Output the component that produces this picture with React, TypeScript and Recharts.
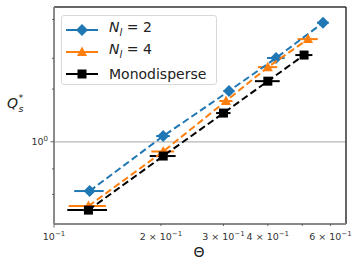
import React from 'react';
import { ScatterChart, Scatter, XAxis, YAxis, ErrorBar, ReferenceLine, Legend } from 'recharts';

// Series: N_l = 2
const thetaN2 = [0.126, 0.203, 0.311, 0.422, 0.572];
const qN2 = [0.523, 1.078, 1.95, 3.01, 4.79];
const errN2 = [0.012, 0.009, 0.011, 0.024, 0.022];
// Series: N_l = 4
const thetaN4 = [0.125, 0.203, 0.305, 0.40, 0.519];
const qN4 = [0.429, 0.88, 1.71, 2.67, 3.86];
const errN4 = [0.015, 0.015, 0.013, 0.025, 0.034];
// Series: Monodisperse
const thetaMono = [0.125, 0.203, 0.30, 0.40, 0.506];
const qMono = [0.407, 0.829, 1.459, 2.22, 3.13];
const errMono = [0.016, 0.017, 0.014, 0.032, 0.028];

const seriesNames = ['N2', 'N4', 'Monodisperse'];
const colors = ['#1f77b4', '#ff7f0e', '#000000'];

const xDomain = [0.1, 0.664];
const yDomain = [0.339, 5.89];
const xTicks = [0.1, 0.2, 0.3, 0.4, 0.5, 0.6];
const xTickMantissa: Record<string, string | null> = {
  '0.1': '',
  '0.2': '2 × ',
  '0.3': '3 × ',
  '0.4': '4 × ',
  '0.5': null,
  '0.6': '6 × ',
};
const yTicks = [0.4, 0.5, 0.6, 0.7, 0.8, 0.9, 1, 2, 3, 4, 5];

const build = (xs: number[], ys: number[], es: number[]) =>
  xs.map((x, i) => ({ x, y: ys[i], xe: es[i] }));

const dataN2 = build(thetaN2, qN2, errN2);
const dataN4 = build(thetaN4, qN4, errN4);
const dataMono = build(thetaMono, qMono, errMono);

const FONT = 'DejaVu Sans, sans-serif';

const Diamond = ({ cx, cy, fill }: any) => (
  <polygon points={`${cx},${cy - 6} ${cx + 6},${cy} ${cx},${cy + 6} ${cx - 6},${cy}`} fill={fill} />
);
const Triangle = ({ cx, cy, fill }: any) => (
  <polygon points={`${cx},${cy - 5.5} ${cx + 5},${cy + 4} ${cx - 5},${cy + 4}`} fill={fill} />
);
const Square = ({ cx, cy, fill }: any) => (
  <rect x={cx - 4.5} y={cy - 4.5} width={9} height={9} fill={fill} />
);
const shapes = [Diamond, Triangle, Square];

const XTick = ({ x, y, payload }: any) => {
  const v = payload.value;
  const key = String(Math.round(v * 10) / 10);
  const m = xTickMantissa[key];
  const major = Math.abs(v - 0.1) < 1e-9;
  return (
    <g>
      <line x1={x} y1={y} x2={x} y2={y + (major ? 3.5 : 2)} stroke="#444" strokeWidth={0.8} />
      {m !== null && m !== undefined && (
        <text x={x} y={y + 16} textAnchor="middle" fontFamily={FONT} fontSize={9.5} fill="#333">
          {m}10
          <tspan dy={-4} fontSize={7}>−1</tspan>
        </text>
      )}
    </g>
  );
};

const YTick = ({ x, y, payload }: any) => {
  const v = payload.value;
  const major = Math.abs(v - 1) < 1e-9;
  return (
    <g>
      <line x1={x} y1={y} x2={x - (major ? 3.5 : 2)} y2={y} stroke="#444" strokeWidth={0.8} />
      {major && (
        <text x={x - 6} y={y + 3.5} textAnchor="end" fontFamily={FONT} fontSize={9.5} fill="#333">
          10
          <tspan dy={-4} fontSize={7}>0</tspan>
        </text>
      )}
    </g>
  );
};

const XLabel = () => (
  <text x={199} y={257} textAnchor="middle" fontFamily={FONT} fontSize={14} fill="#222">
    Θ
  </text>
);

const YLabel = () => (
  <text x={7} y={108} fontFamily={FONT} fontSize={14} fill="#222">
    <tspan fontStyle="italic">Q</tspan>
    <tspan x={18.5} dy={3.5} fontSize={9.5} fontStyle="italic">s</tspan>
    <tspan x={18.5} dy={-11} fontSize={9.5}>*</tspan>
  </text>
);

const LegendIcon = ({ idx }: { idx: number }) => {
  const S = shapes[idx];
  return (
    <svg width={34} height={14} style={{ display: 'block' }}>
      <line x1={1} y1={7} x2={33} y2={7} stroke={colors[idx]} strokeWidth={2} />
      <S cx={17} cy={7} fill={colors[idx]} />
    </svg>
  );
};

const legendLabels = [
  <span key="a"><i>N</i><sub style={{ fontSize: 10, fontStyle: 'italic' }}>l</sub> = 2</span>,
  <span key="b"><i>N</i><sub style={{ fontSize: 10, fontStyle: 'italic' }}>l</sub> = 4</span>,
  <span key="c">Monodisperse</span>,
];

const LegendContent = () => (
  <div
    style={{
      border: '1px solid #d8d8d8',
      borderRadius: 3,
      background: 'rgba(255,255,255,0.85)',
      width: 156,
      height: 70,
      boxSizing: 'border-box',
      padding: '3px 0 0 3px',
      fontFamily: FONT,
      fontSize: 14,
      color: '#222',
    }}
  >
    {seriesNames.map((n, i) => (
      <div key={n} style={{ display: 'flex', alignItems: 'center', height: 22 }}>
        <LegendIcon idx={i} />
        <div style={{ marginLeft: 10, lineHeight: '16px', whiteSpace: 'nowrap' }}>{legendLabels[i]}</div>
      </div>
    ))}
  </div>
);

const datasets = [dataN2, dataN4, dataMono];

export default function App() {
  return (
    <div style={{ position: 'absolute', left: 0, top: 0, background: '#fff' }}>
      <ScatterChart width={353} height={259} margin={{ top: 7, right: 7, bottom: 0, left: 0 }}>
        <XAxis
          type="number"
          dataKey="x"
          scale="log"
          domain={xDomain}
          allowDataOverflow
          ticks={xTicks}
          tick={<XTick />}
          tickLine={false}
          tickSize={0}
          tickMargin={0}
          height={35}
          axisLine={{ stroke: '#8a8a8a', strokeWidth: 2 }}
          label={<XLabel />}
        />
        <YAxis
          type="number"
          dataKey="y"
          scale="log"
          domain={yDomain}
          allowDataOverflow
          ticks={yTicks}
          tick={<YTick />}
          tickLine={false}
          tickSize={0}
          tickMargin={0}
          width={54}
          axisLine={{ stroke: '#8a8a8a', strokeWidth: 2 }}
          label={<YLabel />}
        />
        <ReferenceLine y={1} stroke="#b8b8b8" strokeWidth={1.2} />
        <ReferenceLine x={xDomain[1]} stroke="#333" strokeWidth={1.5} />
        <ReferenceLine y={yDomain[1]} stroke="#333" strokeWidth={1.5} />
        {datasets.map((d, i) => {
          const S = shapes[i];
          return (
            <Scatter
              key={seriesNames[i]}
              name={seriesNames[i]}
              data={d}
              fill={colors[i]}
              isAnimationActive={false}
              line={{ stroke: colors[i], strokeWidth: 2, strokeDasharray: '7 3.5' }}
              shape={(p: any) => <S cx={p.cx} cy={p.cy} fill={colors[i]} />}
            >
              <ErrorBar dataKey="xe" direction="x" stroke={colors[i]} strokeWidth={2} width={0} />
            </Scatter>
          );
        })}
        <Legend
          layout="horizontal"
          verticalAlign="middle"
          align="center"
          content={<LegendContent />}
          wrapperStyle={{ position: 'absolute', left: 61, top: 15, width: 156, height: 70 }}
        />
      </ScatterChart>
    </div>
  );
}
